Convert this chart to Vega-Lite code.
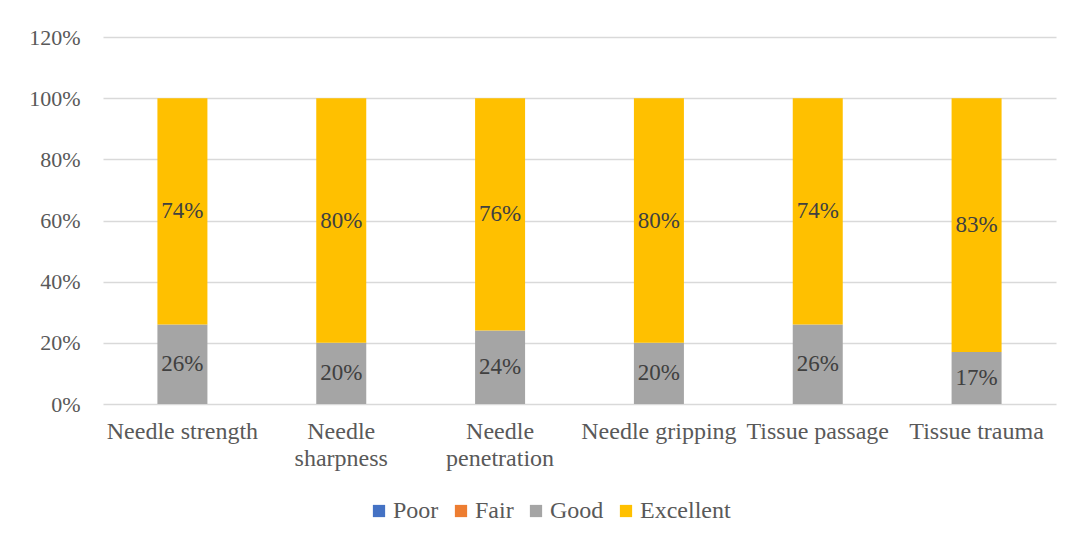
{
  "$schema": "https://vega.github.io/schema/vega-lite/v6.json",
  "width": 953,
  "height": 367,
  "autosize": "none",
  "padding": {"left": 103, "top": 37, "right": 17, "bottom": 142},
  "background": "white",
  "config": {
    "font": "Liberation Serif",
    "view": {"stroke": null},
    "text": {"font": "Liberation Serif"},
    "legend": {"labelFont": "Liberation Serif", "titleFont": "Liberation Serif"},
    "axis": {"labelFont": "Liberation Serif", "labelColor": "#595959", "labelFontSize": 22, "domain": false, "ticks": false, "title": null, "labelOverlap": false}
  },
  "data": {
    "values": [
      {"aspect": "Needle strength", "rating": "Good", "value": 0.26},
      {"aspect": "Needle strength", "rating": "Excellent", "value": 0.74},
      {"aspect": "Needle sharpness", "rating": "Good", "value": 0.20},
      {"aspect": "Needle sharpness", "rating": "Excellent", "value": 0.80},
      {"aspect": "Needle penetration", "rating": "Good", "value": 0.24},
      {"aspect": "Needle penetration", "rating": "Excellent", "value": 0.76},
      {"aspect": "Needle gripping", "rating": "Good", "value": 0.20},
      {"aspect": "Needle gripping", "rating": "Excellent", "value": 0.80},
      {"aspect": "Tissue passage", "rating": "Good", "value": 0.26},
      {"aspect": "Tissue passage", "rating": "Excellent", "value": 0.74},
      {"aspect": "Tissue trauma", "rating": "Good", "value": 0.17},
      {"aspect": "Tissue trauma", "rating": "Excellent", "value": 0.83}
    ]
  },
  "transform": [
    {"calculate": "indexof(['Poor','Fair','Good','Excellent'], datum.rating)", "as": "order"}
  ],
  "encoding": {
    "x": {
      "field": "aspect",
      "type": "nominal",
      "sort": null,
      "scale": {"paddingInner": 0, "paddingOuter": 0},
      "axis": {
        "labelAngle": 0,
        "labelPadding": 15,
        "labelFontSize": 24,
        "labelLineHeight": 27,
        "labelExpr": "datum.value == 'Needle sharpness' ? ['Needle', 'sharpness'] : datum.value == 'Needle penetration' ? ['Needle', 'penetration'] : datum.value"
      }
    },
    "y": {
      "field": "value",
      "type": "quantitative",
      "stack": "zero",
      "scale": {"domain": [0, 1.2]},
      "axis": {"format": ".0%", "values": [0, 0.2, 0.4, 0.6, 0.8, 1.0, 1.2], "gridColor": "#D9D9D9", "gridWidth": 1.5, "labelPadding": 23}
    },
    "order": {"field": "order", "type": "quantitative"}
  },
  "layer": [
    {
      "mark": {"type": "bar", "size": 50},
      "encoding": {
        "color": {
          "field": "rating",
          "type": "nominal",
          "scale": {"domain": ["Poor", "Fair", "Good", "Excellent"], "range": ["#4472C4", "#ED7D31", "#A5A5A5", "#FFC000"]},
          "legend": {
            "orient": "none",
            "direction": "horizontal",
            "legendX": 264,
            "legendY": 462,
            "title": null,
            "symbolType": "square",
            "symbolSize": 150,
            "symbolStrokeWidth": 0,
            "labelFont": "Liberation Serif",
            "labelFontSize": 24,
            "labelColor": "#595959",
            "labelOffset": 2,
            "columnPadding": 10
          }
        }
      }
    },
    {
      "mark": {"type": "text", "font": "Liberation Serif", "fontSize": 23, "color": "#404040", "baseline": "middle"},
      "encoding": {
        "y": {"field": "value", "type": "quantitative", "stack": "zero", "bandPosition": 0.5},
        "text": {"field": "value", "type": "quantitative", "format": ".0%"}
      }
    }
  ]
}
